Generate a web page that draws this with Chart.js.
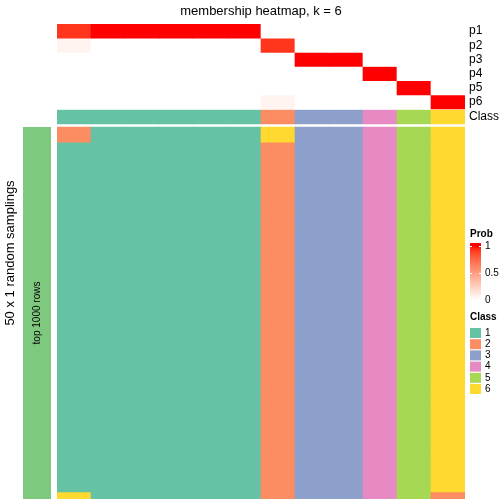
<!DOCTYPE html>
<html>
<head>
<meta charset="utf-8">
<script src="https://cdn.jsdelivr.net/npm/chart.js@4/dist/chart.umd.min.js"></script>
<style>
html,body{margin:0;padding:0;background:#fff;}
#wrap{position:relative;width:504px;height:504px;}
canvas{display:block;}
</style>
</head>
<body>
<div id="wrap"><canvas id="c" width="504" height="504"></canvas></div>
<script>
// ---------------- DATA ----------------
const titleText = "membership heatmap, k = 6";
const columns = ["c1","c2","c3","c4","c5","c6","c7","c8","c9","c10","c11","c12"];
const probLabels = ["p1","p2","p3","p4","p5","p6"];
const p1 = [0.92, 1, 1, 1, 1, 1, 0, 0, 0, 0, 0, 0];
const p2 = [0.06, 0, 0, 0, 0, 0, 0.92, 0, 0, 0, 0, 0];
const p3 = [0, 0, 0, 0, 0, 0, 0, 1, 1, 0, 0, 0];
const p4 = [0, 0, 0, 0, 0, 0, 0, 0, 0, 1, 0, 0];
const p5 = [0, 0, 0, 0, 0, 0, 0, 0, 0, 0, 1, 0];
const p6 = [0, 0, 0, 0, 0, 0, 0.06, 0, 0, 0, 0, 1];
const classRow = [1, 1, 1, 1, 1, 1, 2, 3, 3, 4, 5, 6];
// 50 random samplings, one string per sampling, one digit (class) per column
const samplings = [
  "211111633456","211111633456",
  "111111233456","111111233456","111111233456","111111233456","111111233456",
  "111111233456","111111233456","111111233456","111111233456","111111233456",
  "111111233456","111111233456","111111233456","111111233456","111111233456",
  "111111233456","111111233456","111111233456","111111233456","111111233456",
  "111111233456","111111233456","111111233456","111111233456","111111233456",
  "111111233456","111111233456","111111233456","111111233456","111111233456",
  "111111233456","111111233456","111111233456","111111233456","111111233456",
  "111111233456","111111233456","111111233456","111111233456","111111233456",
  "111111233456","111111233456","111111233456","111111233456","111111233456",
  "111111233456","111111233456",
  "611111233452"
];
const classNames = ["1","2","3","4","5","6"];
const probTicks = [0, 0.5, 1];
const yLabel = "50 x 1 random samplings";
const sideLabel = "top 1000 rows";

// ---------------- STYLE ----------------
const classColors = {1:"#66C2A5",2:"#FC8D62",3:"#8DA0CB",4:"#E78AC3",5:"#A6D854",6:"#FFD92F"};
const sideColor = "#7FC97F";
const FONT = "'Liberation Sans', Arial, sans-serif";

// white -> red interpolation in LAB space
function lab2rgb(L,a,b){
  let fy=(L+16)/116, fx=fy+a/500, fz=fy-b/200;
  const f=t=>{const t3=t*t*t;return t3>0.008856?t3:(t-16/116)/7.787;};
  const X=0.95047*f(fx), Y=f(fy), Z=1.08883*f(fz);
  let r=3.2406*X-1.5372*Y-0.4986*Z, g=-0.9689*X+1.8758*Y+0.0415*Z, bb=0.0557*X-0.2040*Y+1.0570*Z;
  const gc=c=>{c=Math.max(0,Math.min(1,c));return Math.round(255*(c>0.0031308?1.055*Math.pow(c,1/2.4)-0.055:12.92*c));};
  return [gc(r),gc(g),gc(bb)];
}
const WHITE_LAB=[100,0,0], RED_LAB=[53.2408,80.0925,67.2032];
function probColor(v){
  const L=WHITE_LAB[0]+(RED_LAB[0]-WHITE_LAB[0])*v;
  const a=WHITE_LAB[1]+(RED_LAB[1]-WHITE_LAB[1])*v;
  const b=WHITE_LAB[2]+(RED_LAB[2]-WHITE_LAB[2])*v;
  const c=lab2rgb(L,a,b);
  return `rgb(${c[0]},${c[1]},${c[2]})`;
}

// ---------------- LAYOUT (y in pixel-like units from top of plot) ----------------
const annH = 14.17;         // annotation row height
const classTop = 86, classBot = 100;
const mainTop = 103, mainBot = 475;
const rowH = (mainBot - mainTop) / samplings.length;

const probRows = [p1,p2,p3,p4,p5,p6];
const datasets = [];
probRows.forEach((row,i)=>{
  datasets.push({
    label: probLabels[i],
    data: row.map(()=>[i*annH, (i+1)*annH]),
    backgroundColor: row.map(v=>probColor(v)),
    grouped:false, barPercentage:1, categoryPercentage:1, borderWidth:0, borderSkipped:false
  });
});
datasets.push({
  label:"Class",
  data: classRow.map(()=>[classTop,classBot]),
  backgroundColor: classRow.map(c=>classColors[c]),
  grouped:false, barPercentage:1, categoryPercentage:1, borderWidth:0
});
samplings.forEach((s,j)=>{
  datasets.push({
    label:"sampling "+(j+1),
    data: columns.map(()=>[mainTop+j*rowH, mainTop+(j+1)*rowH+0.3]),
    backgroundColor: s.split("").map(c=>classColors[+c]),
    grouped:false, barPercentage:1, categoryPercentage:1, borderWidth:0
  });
});

const textPlugin = {
  id:"texts",
  afterDraw(chart){
    const ctx = chart.ctx, ca = chart.chartArea, ys = chart.scales.y;
    ctx.save();
    ctx.fillStyle="#000";
    // title
    ctx.font = `13px ${FONT}`;
    ctx.textAlign="center"; ctx.textBaseline="middle";
    ctx.fillText(titleText, (ca.left+ca.right)/2, 11);
    // row labels
    ctx.font = `12px ${FONT}`;
    ctx.textAlign="left";
    probLabels.forEach((l,i)=>{
      ctx.fillText(l, ca.right+4, ys.getPixelForValue((i+0.5)*annH));
    });
    ctx.fillText("Class", ca.right+4, ys.getPixelForValue((classTop+classBot)/2));
    // side bar
    const mt = ys.getPixelForValue(mainTop), mb = ys.getPixelForValue(mainBot);
    ctx.fillStyle = sideColor;
    ctx.fillRect(23, mt, 28, mb-mt);
    ctx.fillStyle="#000";
    ctx.save();
    ctx.translate(37,(mt+mb)/2); ctx.rotate(-Math.PI/2);
    ctx.font = `10px ${FONT}`; ctx.textAlign="center"; ctx.textBaseline="middle";
    ctx.fillText(sideLabel,0,0);
    ctx.restore();
    ctx.save();
    ctx.translate(10,253); ctx.rotate(-Math.PI/2);
    ctx.font = `13px ${FONT}`; ctx.textAlign="center"; ctx.textBaseline="middle";
    ctx.fillText(yLabel,0,0);
    ctx.restore();
    // Prob legend
    const lx = 470;
    ctx.font = `bold 10px ${FONT}`; ctx.textAlign="left"; ctx.textBaseline="middle";
    ctx.fillText("Prob", lx, 234);
    const gTop=243, gBot=301, v1=246, v0=300;
    const grad = ctx.createLinearGradient(0,v1,0,v0);
    for(let k=0;k<=20;k++){ grad.addColorStop(k/20, probColor(1-k/20)); }
    ctx.fillStyle = grad;
    ctx.fillRect(lx, gTop, 11, gBot-gTop);
    ctx.strokeStyle="#fff"; ctx.lineWidth=1;
    probTicks.forEach(t=>{
      const y = Math.round(v0-(v0-v1)*t)+0.5;
      if(t>0){
        ctx.beginPath(); ctx.moveTo(lx,y); ctx.lineTo(lx+2,y); ctx.moveTo(lx+9,y); ctx.lineTo(lx+11,y); ctx.stroke();
      }
      ctx.fillStyle="#000"; ctx.font=`10px ${FONT}`;
      ctx.fillText(String(t), lx+15, y);
    });
    // Class legend
    ctx.font = `bold 10px ${FONT}`;
    ctx.fillText("Class", lx, 317);
    classNames.forEach((n,i)=>{
      const cy = 333 + i*11.2;
      ctx.fillStyle = classColors[i+1];
      ctx.fillRect(lx, cy-5, 11, 10);
      ctx.fillStyle="#000"; ctx.font=`10px ${FONT}`;
      ctx.fillText(n, lx+15, cy);
    });
    ctx.restore();
  }
};

new Chart(document.getElementById("c"),{
  type:"bar",
  data:{labels:columns, datasets},
  options:{
    responsive:false, animation:false, devicePixelRatio:1,
    layout:{padding:{left:57,right:39,top:24,bottom:5}},
    plugins:{legend:{display:false},tooltip:{enabled:false},title:{display:false}},
    scales:{
      x:{display:false, offset:true, grid:{display:false}},
      y:{display:false, min:0, max:475, reverse:true, grid:{display:false}}
    }
  },
  plugins:[textPlugin]
});
</script>
</body>
</html>
